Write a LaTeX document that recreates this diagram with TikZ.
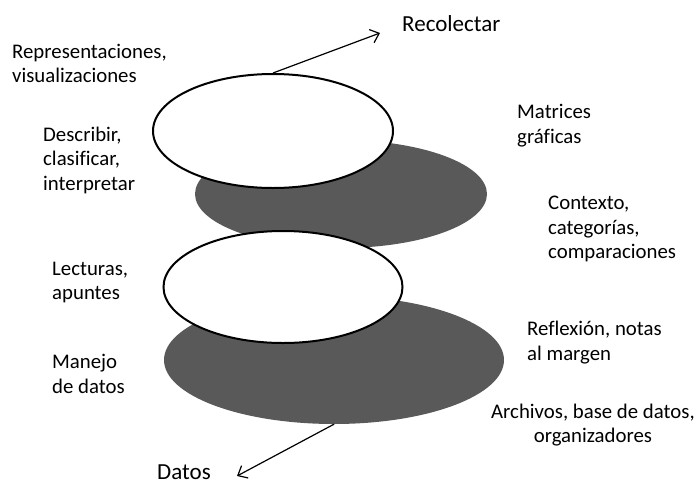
\documentclass[tikz,border=0pt]{standalone}
\usepackage{fontspec}
\setmainfont{Carlito}[Ligatures=NoCommon]
\usetikzlibrary{shapes.geometric,arrows.meta}
\definecolor{darkfill}{HTML}{595959}
\begin{document}
\begin{tikzpicture}[x=1pt,y=-1pt,
  lbl/.style={inner sep=0pt,font=\fontsize{20.8}{24.5}\selectfont},
  whiteell/.style={ellipse,draw=black,line width=2pt,fill=white,inner sep=0pt},
  darkell/.style={ellipse,fill=darkfill,inner sep=0pt},
  conn/.style={line width=1.2pt,-{Straight Barb[length=8pt,width=14pt,line width=1.2pt]}}]
\useasboundingbox (0,0) rectangle (694,485);
\node[darkell,minimum width=292,minimum height=108] (d1) at (341,194) {};
\node[darkell,minimum width=340,minimum height=128] (d2) at (334,360) {};
\node[whiteell,minimum width=240,minimum height=114] (w1) at (273,131) {};
\node[whiteell,minimum width=239,minimum height=112] (w2) at (283,287) {};
\coordinate (up) at (380,33);
\coordinate (down) at (237,476);
\draw[conn] (w1.north) -- (up);
\draw[conn] (d2.south) -- (down);
\node[lbl,anchor=west,font=\fontsize{23}{27}\selectfont] (rec) at (402,24) {Recolectar};
\node[lbl,anchor=west,align=left] (t1) at (12,63.5) {Representaciones,\\visualizaciones};
\node[lbl,anchor=west,align=left] (t2) at (43,160) {Describir,\\clasificar,\\interpretar};
\node[lbl,anchor=west,align=left] (t3) at (517,125.5) {Matrices\\gráficas};
\node[lbl,anchor=west,align=left] (t4) at (548,229) {Contexto,\\categorías,\\comparaciones};
\node[lbl,anchor=west,align=left] (t5) at (52,282.5) {Lecturas,\\apuntes};
\node[lbl,anchor=west,align=left] (t6) at (527,342.5) {Reflexión, notas\\al margen};
\node[lbl,anchor=west,align=left] (t7) at (52,374) {Manejo\\de datos};
\node[lbl,anchor=west,align=center] (t8) at (491,425) {Archivos, base de datos,\\organizadores};
\node[lbl,anchor=west,font=\fontsize{23}{27}\selectfont] (t9) at (157,472) {Datos};
\end{tikzpicture}
\end{document}
